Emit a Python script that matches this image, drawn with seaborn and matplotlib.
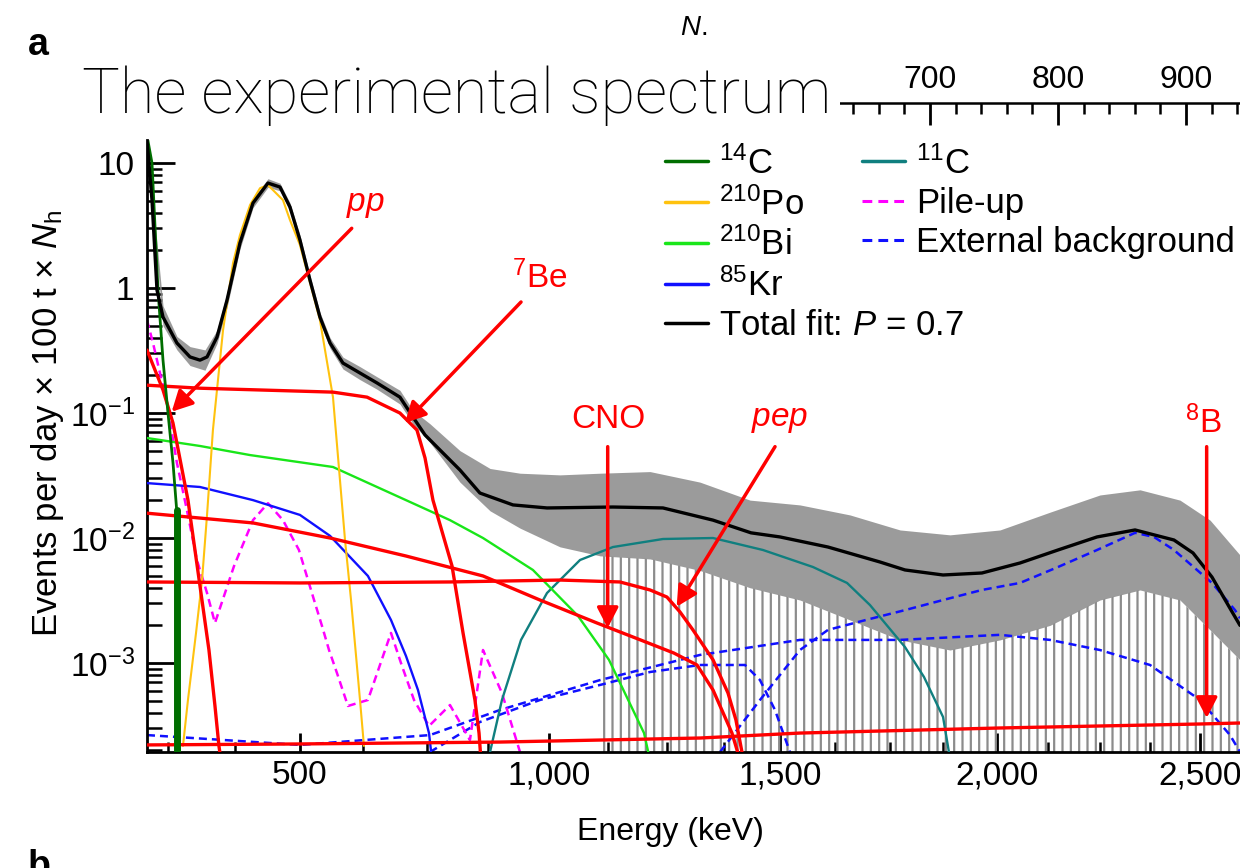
import numpy as np
import matplotlib
matplotlib.use("Agg")
import matplotlib.pyplot as plt
from matplotlib.lines import Line2D
from matplotlib.ticker import LogLocator, NullFormatter, MultipleLocator
import seaborn as sns

# ---------------- values ----------------
# energy scale calibration: energy (keV) -> N_h (the plot is linear in N_h)
energy_cal = [100, 250, 375, 500, 625, 750, 875, 1000, 1125, 1250, 1375, 1500,
              1625, 1750, 1875, 2000, 2125, 2250, 2375, 2500, 3000]
nh_cal = [42.0, 104.7, 157.0, 207.8, 257.0, 307.0, 354.7, 402.3, 448.4, 494.5,
          539.1, 582.8, 625.8, 668.8, 710.2, 752.3, 792.2, 832.8, 871.9, 910.9, 1070.0]

energy_major = [500, 1000, 1500, 2000, 2500]
energy_major_labels = ["500", "1,000", "1,500", "2,000", "2,500"]
energy_minor = [250, 375, 625, 750, 875, 1125, 1250, 1375, 1625, 1750, 1875,
                2125, 2250, 2375]
nh_major = [700, 800, 900]
y_major = [1e-3, 1e-2, 1e-1, 1, 10]
y_major_labels = [r"$10^{-3}$", r"$10^{-2}$", r"$10^{-1}$", "1", "10"]

# measured spectrum: envelope of the data points with error bars
data_nh = [88.3, 100.8, 111.7, 121.9, 133.6, 143.0, 150.8, 160.9, 171.1, 182.8,
           192.2, 200.0, 207.8, 215.6, 223.4, 231.3, 241.4, 254.7, 268.0, 285.9,
           296.1, 309.4, 332.8, 356.3, 379.7, 410.9, 442.2, 481.3, 520.3, 559.4,
           598.4, 637.5, 676.6, 715.6, 754.7, 793.8, 832.8, 864.1, 895.3, 918.8, 942.2]
data_upper = [15.85, 0.72, 0.41, 0.34, 0.32, 0.46, 0.92, 2.55, 5.2, 7.5,
              6.9, 4.8, 2.65, 1.27, 0.64, 0.40, 0.28, 0.235, 0.195, 0.152,
              0.105, 0.082, 0.050, 0.036, 0.033, 0.032, 0.033, 0.034, 0.028, 0.0201,
              0.0184, 0.0153, 0.0116, 0.0106, 0.0116, 0.0161, 0.0221, 0.0243, 0.0201, 0.0139, 0.00731]
data_lower = [12.7, 0.50, 0.32, 0.24, 0.22, 0.36, 0.70, 2.05, 4.4, 6.4,
              6.0, 4.1, 2.2, 1.05, 0.53, 0.33, 0.225, 0.185, 0.155, 0.118,
              0.082, 0.058, 0.028, 0.0165, 0.012, 0.0085, 0.0072, 0.0068, 0.0055, 0.0040,
              0.00319, 0.00221, 0.00153, 0.00127, 0.00153, 0.002, 0.00319, 0.00384, 0.00319, 0.00184, 0.00106]

fit_nh = [88.3, 92.2, 96.1, 100.8, 111.7, 121.9, 129.7, 135.2, 143.0, 150.8, 160.9,
          171.1, 182.8, 192.2, 200.0, 207.8, 215.6, 223.4, 231.3, 241.4, 254.7, 268.0,
          285.9, 296.1, 305.5, 317.2, 332.8, 348.4, 374.2, 400.8, 452.3, 491.4, 530.5,
          560.2, 582.8, 620.3, 660.9, 680.5, 710.2, 740.6, 770.3, 800.0, 830.5, 860.2,
          890.6, 905.5, 920.3, 935.2, 942.2]
fit_val = [15.3, 5.06, 0.964, 0.586, 0.363, 0.281, 0.265, 0.281, 0.406, 0.80, 2.29,
           4.79, 6.92, 6.43, 4.45, 2.42, 1.16, 0.586, 0.363, 0.251, 0.209, 0.174,
           0.134, 0.0929, 0.0668, 0.0506, 0.035, 0.0229, 0.0184, 0.0174, 0.0177, 0.0174, 0.0139,
           0.011, 0.0102, 0.00847, 0.00643, 0.00555, 0.00506, 0.00525, 0.00631, 0.00802, 0.0102, 0.0116,
           0.00964, 0.00759, 0.00487, 0.00265, 0.002]

c14_nh = [88.3, 92.2, 96.9, 100.8, 104.7, 108.6, 111.5, 111.5]
c14_val = [16.6, 10.0, 0.96, 0.265, 0.10, 0.040, 0.0167, 0.0001]

po210_nh = [116.4, 120.3, 126.6, 131.3, 135.2, 139.8, 147.7, 155.5, 160.9, 168.8,
            176.6, 182.8, 194.5, 200.0, 207.8, 223.4, 233.6, 243.0, 247.7, 254.7, 257.8]
po210_val = [0.000217, 0.000506, 0.00174, 0.00461, 0.0153, 0.0731, 0.461, 1.585, 2.65, 4.62,
             6.3, 6.67, 5.06, 3.5, 2.21, 0.555, 0.134, 0.00964, 0.00319, 0.000506, 0.000217]

bi210_nh = [88.3, 129.7, 168.8, 233.6, 290.6, 325.0, 350.8, 389.8, 425.0, 449.2, 476.6, 481.3]
bi210_val = [0.0631, 0.0545, 0.0461, 0.037, 0.0201, 0.0139, 0.0100, 0.00555, 0.00238,
             0.00106, 0.000275, 0.000167]

kr85_nh = [88.3, 129.7, 171.1, 207.8, 231.3, 260.9, 278.9, 290.6, 300.0, 308.6, 311.0]
kr85_val = [0.0275, 0.0256, 0.0201, 0.0153, 0.0104, 0.00497, 0.00221, 0.00114, 0.000608,
            0.000275, 0.000167]

pp_nh = [88.3, 100.8, 108.6, 120.3, 129.7, 136.7, 141.4, 144.5, 146.1]
pp_val = [0.319, 0.153, 0.0832, 0.0201, 0.00413, 0.00127, 0.000453, 0.000217, 0.000167]

be7_nh = [88.3, 129.7, 233.6, 260.2, 285.9, 299.2, 305.5, 311.7, 326.6, 335.2, 344.5, 347.7, 349.2]
be7_val = [0.167, 0.158, 0.147, 0.134, 0.100, 0.0731, 0.0437, 0.0201, 0.00597, 0.00174,
           0.000506, 0.000275, 0.000167]

cno_nh = [88.3, 171.1, 231.3, 290.6, 350.8, 395.3, 439.8, 470.3, 500.0, 518.0, 530.5,
          539.1, 545.3, 551.6]
cno_val = [0.0158, 0.0132, 0.0100, 0.00718, 0.00497, 0.00319, 0.00209, 0.00158, 0.0012,
           0.000964, 0.000608, 0.000384, 0.000275, 0.000167]

pep_nh = [88.3, 207.8, 325.0, 410.9, 457.8, 481.3, 494.5, 504.7, 514.8, 530.5, 542.2,
          548.4, 553.1, 555.5]
pep_val = [0.00445, 0.00437, 0.00445, 0.00461, 0.00445, 0.00384, 0.00337, 0.00256, 0.00184,
           0.00106, 0.000575, 0.00035, 0.000194, 0.00015]

b8_nh = [88.3, 207.8, 364.1, 520.3, 598.4, 754.7, 910.9, 942.2]
b8_val = [0.000221, 0.000225, 0.000233, 0.000251, 0.000275, 0.000302, 0.000325, 0.000331]

c11_nh = [356.3, 365.6, 380.5, 400.8, 426.6, 452.3, 491.4, 530.5, 569.5, 608.6, 635.2,
          653.1, 680.5, 695.3, 710.2, 714.8, 716.4]
c11_val = [0.000194, 0.000506, 0.00153, 0.00363, 0.00667, 0.00847, 0.00982, 0.0100, 0.00802,
           0.00586, 0.00437, 0.00291, 0.00134, 0.000773, 0.00037, 0.000194, 0.00014]

pileup_nh = [88.3, 93.0, 103.9, 111.7, 119.5, 127.3, 135.2, 141.4, 156.3, 171.1, 182.8,
             194.5, 207.0, 218.8, 225.0, 230.5, 236.7, 245.3, 260.9, 278.9, 287.5, 296.9,
             308.6, 325.0, 340.6, 350.8, 365.6, 379.7]
pileup_val = [0.555, 0.363, 0.12, 0.0398, 0.0167, 0.00667, 0.00363, 0.00209, 0.00597, 0.0139,
              0.019, 0.0139, 0.00802, 0.00319, 0.00198, 0.00127, 0.000832, 0.000453, 0.000506,
              0.00174, 0.000946, 0.000506, 0.000313, 0.000461, 0.000242, 0.00127, 0.000575, 0.000194]

k40_nh = [309.4, 348.4, 395.3, 442.2, 481.3, 520.3, 555.5, 567.2, 578.9, 590.6]
k40_val = [0.000194, 0.000337, 0.000506, 0.000667, 0.000847, 0.000964, 0.000964, 0.00073,
           0.000421, 0.000194]
bi214_nh = [88.3, 207.8, 309.4, 364.1, 442.2, 520.3, 598.4, 676.6, 754.7, 793.8, 832.8,
            871.9, 910.9, 934.4, 942.2]
bi214_val = [0.000265, 0.000221, 0.000265, 0.000421, 0.00073, 0.00116, 0.00153, 0.00153,
             0.00168, 0.00153, 0.00127, 0.000964, 0.000506, 0.000265, 0.000194]
tl208_nh = [536.0, 567.2, 598.4, 620.3, 650.0, 680.5, 710.2, 740.6, 770.3, 800.0, 830.5,
            860.2, 875.0, 890.6, 920.3, 938.3, 942.2]
tl208_val = [0.000194, 0.000506, 0.00127, 0.00184, 0.00221, 0.00265, 0.00319, 0.00384,
             0.00437, 0.00586, 0.00802, 0.0110, 0.0102, 0.00802, 0.00437, 0.00265, 0.00228]

# ---------------- style ----------------
sns.set_theme(style="ticks")
plt.rcParams["font.family"] = ["Liberation Sans", "DejaVu Sans"]
plt.rcParams["mathtext.fontset"] = "custom"
plt.rcParams["mathtext.rm"] = "Liberation Sans"
plt.rcParams["mathtext.it"] = "Liberation Sans:italic"
plt.rcParams["mathtext.bf"] = "Liberation Sans:bold"
for k in ["text.color", "axes.labelcolor", "xtick.color", "ytick.color",
          "xtick.labelcolor", "ytick.labelcolor", "axes.edgecolor"]:
    plt.rcParams[k] = "black"
plt.rcParams["hatch.linewidth"] = 1.6
plt.rcParams["hatch.color"] = "#8c8c8c"

RED = "#ff0000"
col = {"c14": "#006e00", "po": "#ffc20e", "bi": "#19e619", "kr": "#1010ff",
       "fit": "#000000", "c11": "#107f7f", "pile": "#ff00ff", "ext": "#1010ff"}

fig = plt.figure(figsize=(12.4, 8.68), dpi=100)
ax = fig.add_axes([147 / 1240, 116 / 868, 1093 / 1240, 612 / 868])
ax.set_yscale("log")
ax.set_xlim(88.3, 942.2)
ax.set_ylim(1.94e-4, 15.3)

# data band
dn = np.array(data_nh)
ax.fill_between(dn, data_lower, data_upper, color="#8a8a8a", lw=0, alpha=0.85, zorder=1)
sparse = dn >= 440
ax.fill_between(dn[sparse], 1e-4, np.array(data_lower)[sparse], facecolor="none",
                edgecolor="#8c8c8c", hatch="||", lw=0, zorder=1)

dash = (0, (3.2, 2.0))
series = [
    (bi214_nh, bi214_val, col["ext"], 1.8, dash, 2),
    (k40_nh, k40_val, col["ext"], 1.8, dash, 2),
    (tl208_nh, tl208_val, col["ext"], 1.8, dash, 2),
    (pileup_nh, pileup_val, col["pile"], 1.8, dash, 2),
    (c11_nh, c11_val, col["c11"], 1.7, "-", 3),
    (kr85_nh, kr85_val, col["kr"], 1.7, "-", 3),
    (bi210_nh, bi210_val, col["bi"], 1.7, "-", 3),
    (po210_nh, po210_val, col["po"], 1.5, "-", 3),
    (b8_nh, b8_val, RED, 2.4, "-", 4),
    (pep_nh, pep_val, RED, 2.4, "-", 4),
    (cno_nh, cno_val, RED, 2.4, "-", 4),
    (be7_nh, be7_val, RED, 2.4, "-", 4),
    (pp_nh, pp_val, RED, 2.4, "-", 4),
    (c14_nh, c14_val, col["c14"], 2.0, "-", 5),
    (fit_nh, fit_val, col["fit"], 2.4, "-", 6),
]
for xs, ys, c, lw, ls, z in series:
    sns.lineplot(x=xs, y=ys, ax=ax, color=c, linewidth=lw, linestyle=ls,
                 estimator=None, sort=False, legend=False, zorder=z)
# thick end of the 14C spectrum
sns.lineplot(x=c14_nh[-2:], y=c14_val[-2:], ax=ax, color=col["c14"], linewidth=5,
             estimator=None, sort=False, legend=False, zorder=5)

# ---------------- axes ----------------
sns.despine(ax=ax)
for s in ["left", "bottom"]:
    ax.spines[s].set_linewidth(2.0)
    ax.spines[s].set_color("black")

ax.set_xticks(np.interp(energy_major, energy_cal, nh_cal))
ax.set_xticklabels(energy_major_labels)
ax.set_xticks(np.interp(energy_minor, energy_cal, nh_cal), minor=True)
ax.set_yticks(y_major)
ax.set_yticklabels(y_major_labels)
ax.yaxis.set_minor_locator(LogLocator(base=10, subs=np.arange(2, 10)))
ax.yaxis.set_minor_formatter(NullFormatter())

ax.tick_params(axis="x", which="major", direction="in", length=14, width=2,
               labelsize=24, pad=6, colors="black")
ax.tick_params(axis="x", which="minor", direction="in", length=7, width=1.8, colors="black")
ax.tick_params(axis="y", which="major", direction="in", length=20, width=2,
               labelsize=24, pad=9, colors="black")
ax.tick_params(axis="y", which="minor", direction="in", length=11, width=1.8, colors="black")

ax.set_xlabel("Energy (keV)", fontsize=23, va="center", color="black")
ax.xaxis.set_label_coords(0.479, -0.1307)
ax.set_ylabel(r"Events per day × 100 t × $N_{\rm h}$", fontsize=25, va="center",
              color="black")
ax.yaxis.set_label_coords(-0.0906, 0.5376)

secax = ax.secondary_xaxis(1 + 37 / 612)
secax.set_xticks(nh_major)
secax.xaxis.set_minor_locator(MultipleLocator(20))
secax.tick_params(axis="x", which="major", direction="in", length=16, width=2,
                  labelsize=23, pad=6, colors="black")
secax.tick_params(axis="x", which="minor", direction="in", length=8, width=1.8,
                  colors="black")
secax.spines["top"].set_linewidth(1.8)
secax.spines["top"].set_color("black")

# ---------------- legends ----------------
h1 = [Line2D([], [], color=col["c14"], lw=2.5), Line2D([], [], color=col["po"], lw=2.5),
      Line2D([], [], color=col["bi"], lw=2.5), Line2D([], [], color=col["kr"], lw=2.5),
      Line2D([], [], color=col["fit"], lw=2.5)]
l1 = [r"$^{14}$C", r"$^{210}$Po", r"$^{210}$Bi", r"$^{85}$Kr", r"Total fit: $P$ = 0.7"]
h2 = [Line2D([], [], color=col["c11"], lw=2.5),
      Line2D([], [], color=col["pile"], lw=2.2, ls=dash),
      Line2D([], [], color=col["ext"], lw=2.2, ls=dash)]
l2 = [r"$^{11}$C", "Pile-up", "External background"]
common = dict(loc="upper left", frameon=False, fontsize=25, handlelength=1.25,
              handletextpad=0.3, labelspacing=0.18, borderaxespad=0, borderpad=0,
              labelcolor="black")
leg1 = ax.legend(h1, l1, bbox_to_anchor=(0.474, 0.990), **common)
ax.add_artist(leg1)
ax.legend(h2, l2, bbox_to_anchor=(0.654, 0.990), **common)

# ---------------- annotations ----------------
arrow = dict(arrowstyle="-|>,head_length=0.5,head_width=0.26", color=RED, lw=2.5,
             mutation_scale=25, shrinkA=0, shrinkB=0)
notes = [
    ("$pp$", (0.1995, 0.8938), (0.1873, 0.8557), (0.0226, 0.5560)),
    (r"$^{7}$Be", (0.3596, 0.7745), (0.3422, 0.7353), (0.2360, 0.5376)),
    ("CNO", (0.4225, 0.5425), (0.4215, 0.4989), (0.4215, 0.2026)),
    ("$pep$", (0.5791, 0.5425), (0.5746, 0.4989), (0.4846, 0.2374)),
    (r"$^{8}$B", (0.9661, 0.5376), (0.9695, 0.4989), (0.9695, 0.0556)),
]
for txt, tpos, tail, tip in notes:
    ax.text(*tpos, txt, transform=ax.transAxes, color=RED, fontsize=24,
            ha="center", va="center", zorder=10)
    ax.annotate("", xy=tip, xytext=tail, xycoords="axes fraction",
                textcoords="axes fraction", arrowprops=arrow, zorder=10)

# ---------------- figure texts ----------------
fig.text(82 / 1240, (868 - 113) / 868, "The experimental spectrum", fontsize=45.5,
         family=["Roboto", "Liberation Sans"], fontweight="light", va="baseline", ha="left",
         color="black", bbox=dict(facecolor="white", edgecolor="none", pad=6), zorder=5)
fig.text(28 / 1240, (868 - 55) / 868, "a", fontsize=27, fontweight="bold", va="baseline",
         color="black")
fig.text(28 / 1240, (868 - 877) / 868, "b", fontsize=27, fontweight="bold", va="baseline",
         color="black")
fig.text(694 / 1240, (868 - 35) / 868, r"$N$.", fontsize=20, ha="center", va="baseline",
         color="black")

fig.savefig("out.png", dpi=100, facecolor="white")
